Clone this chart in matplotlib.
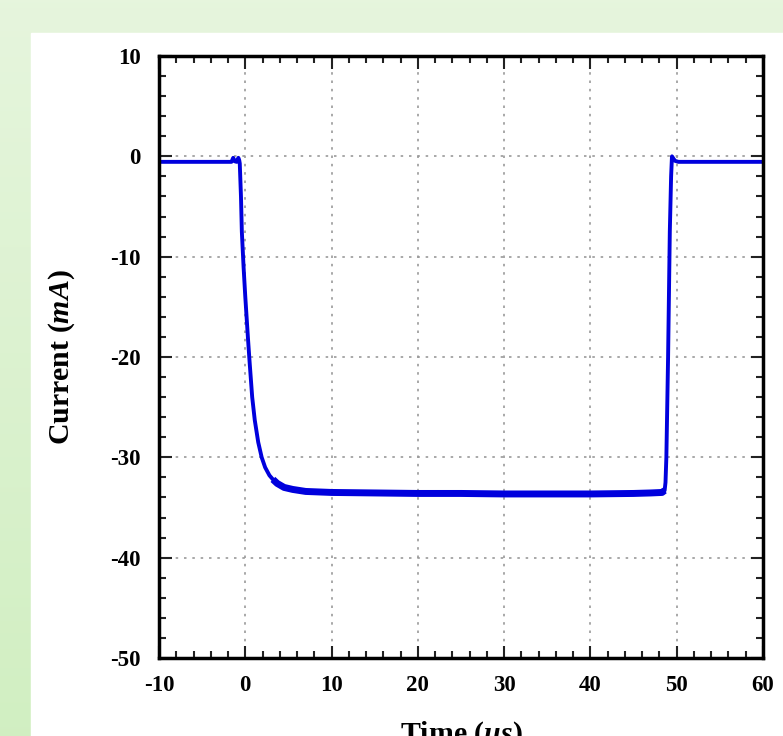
import matplotlib
matplotlib.use("Agg")
import matplotlib.pyplot as plt
import numpy as np
from matplotlib.ticker import AutoMinorLocator

plt.rcParams["mathtext.fontset"] = "custom"
plt.rcParams["mathtext.rm"] = "Liberation Serif:bold"
plt.rcParams["mathtext.it"] = "Liberation Serif:italic:bold"
plt.rcParams["mathtext.bf"] = "Liberation Serif:bold"
plt.rcParams["mathtext.bfit"] = "Liberation Serif:italic:bold"

# ---- data ----
time_us = [-10, -5, -2, -1.6, -1.4, -1.2, -1.0, -0.8, -0.7, -0.64, -0.5, -0.4, -0.2, 0.0,
           0.3, 0.5, 0.8, 1.1, 1.5, 1.9, 2.3, 2.8, 3.2, 3.7, 4.5, 5.5, 7, 10,
           15, 20, 25, 30, 35, 40, 45, 47, 48.3, 48.6, 48.7, 48.8, 49.0, 49.2,
           49.35, 49.45, 49.6, 49.8, 50.2, 51, 55, 60]
current_mA = [-0.55, -0.55, -0.55, -0.55, -0.15, -0.5, -0.55, -0.15, -0.4, -0.7, -4.0, -7.5, -11.0, -14.0,
              -18.0, -20.5, -24.0, -26.3, -28.5, -30.0, -31.0, -31.8, -32.2, -32.6, -33.0, -33.2, -33.4, -33.5,
              -33.55, -33.6, -33.6, -33.65, -33.65, -33.65, -33.6, -33.55, -33.5, -33.3, -32.5, -30.0, -20.0, -7.5,
              -2.0, 0.0, -0.2, -0.45, -0.55, -0.55, -0.55, -0.55]
# plateau (ripple band) spans these sample indices
plateau_start, plateau_end = 22, 38

xlim = (-10, 60)
ylim = (-50, 10)
xticks = [-10, 0, 10, 20, 30, 40, 50, 60]
yticks = [-50, -40, -30, -20, -10, 0, 10]

W, H = 783, 736
fig = plt.figure(figsize=(W / 100, H / 100), dpi=100)

# background: green gradient with white panel
bg = fig.add_axes([0, 0, 1, 1], zorder=-10)
grad = np.linspace(0, 1, 256).reshape(-1, 1)
top = np.array([0.902, 0.961, 0.867])
bot = np.array([0.820, 0.937, 0.760])
img = top[None, None, :] * (1 - grad[:, :, None]) + bot[None, None, :] * grad[:, :, None]
bg.imshow(img, aspect="auto", extent=[0, 1, 0, 1], origin="upper")
bg.add_patch(plt.Rectangle((31 / W, 0), 1 - 31 / W, 1 - 33 / H, color="white", zorder=2))
bg.set_xlim(0, 1)
bg.set_ylim(0, 1)
bg.axis("off")

ax = fig.add_axes([159 / W, 1 - 658 / H, (763 - 159) / W, (658 - 56) / H])
ax.plot(time_us, current_mA, color="#0000dd", lw=2.8, solid_joinstyle="round")
ax.plot(time_us[plateau_start:plateau_end], current_mA[plateau_start:plateau_end],
        color="#0000dd", lw=5.0, solid_capstyle="butt")

ax.set_xlim(*xlim)
ax.set_ylim(*ylim)
ax.set_xticks(xticks)
ax.set_yticks(yticks)
ax.xaxis.set_minor_locator(AutoMinorLocator(5))
ax.yaxis.set_minor_locator(AutoMinorLocator(5))
ax.tick_params(which="both", direction="in", top=True, right=True, width=1.5, color="#222222")
ax.tick_params(which="major", length=9)
ax.tick_params(which="minor", length=5)
ax.tick_params(axis="x", which="major", pad=12)
ax.tick_params(axis="y", which="major", pad=13)
ax.grid(True, which="major", color="#999999", linestyle=(0, (1.5, 3.5)), lw=1.2)
for s in ax.spines.values():
    s.set_linewidth(2.5)
    s.set_color("black")

tfont = dict(family="Liberation Serif", weight="bold", size=16.5)
ax.set_xticklabels([str(v) for v in xticks], **tfont)
ax.set_yticklabels([str(v) for v in yticks], **tfont)

ax.set_ylabel(r"Current ($\mathbfit{mA}$)", family="Liberation Serif", weight="bold", size=21.5, labelpad=24)
ax.set_xlabel(r"Time ($\mathbfit{\mu s}$)", family="Liberation Serif", weight="bold", size=21.5, labelpad=17)

fig.savefig("out.png", dpi=100)
